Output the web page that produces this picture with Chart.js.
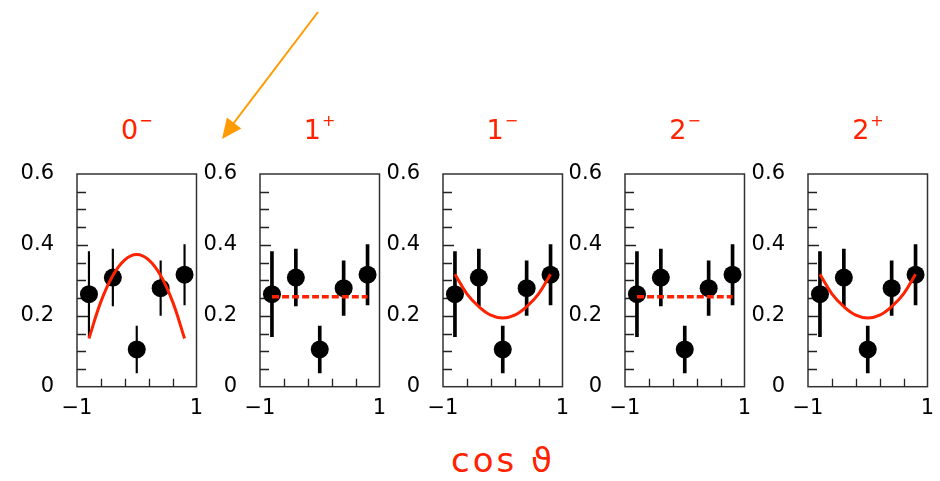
<!DOCTYPE html>
<html>
<head>
<meta charset="utf-8">
<script src="https://cdn.jsdelivr.net/npm/chart.js@4.4.0/dist/chart.umd.min.js"></script>
<style>
  html, body { margin:0; padding:0; background:#fff; }
  body { width:940px; height:481px; overflow:hidden; position:relative; font-family:"DejaVu Sans", sans-serif; }
  .panel { position:absolute; top:160px; width:190px; height:260px; }
  .title { position:absolute; top:116px; width:120px; text-align:center; color:#ff2200; font-size:27px; line-height:27px; white-space:nowrap; }
  .title .sup { font-size:16px; position:relative; top:-13px; margin-left:1px; }
  #xlabel { position:absolute; left:380px; width:246px; top:440px; text-align:center; color:#ff2200; font-size:34px; line-height:40px; letter-spacing:3px; white-space:nowrap; }
  #arrow { position:absolute; left:0; top:0; }
</style>
</head>
<body>
<svg id="arrow" width="940" height="481">
  <line x1="318" y1="12" x2="233" y2="124" stroke="#ff9a00" stroke-width="2"/>
  <polygon points="222,139 226.9,117.6 241.3,128.4" fill="#ff9a00"/>
</svg>
<div id="xlabel">cos ϑ</div>

<script>
// ---- data ----
const cosTheta   = [-0.8, -0.4, 0, 0.4, 0.8];
const yields     = [0.261, 0.308, 0.105, 0.278, 0.316];
const yieldErr   = [0.12, 0.08, 0.066, 0.077, 0.085];

const fitX       = [-0.8, -0.6, -0.4, -0.2, 0, 0.2, 0.4, 0.6, 0.8];
const fit0minus  = [0.136, 0.24, 0.314, 0.358, 0.373, 0.358, 0.314, 0.24, 0.136];
const fit1minus  = [0.317, 0.262, 0.226, 0.202, 0.194, 0.202, 0.226, 0.262, 0.317];
const flatX      = [-0.8, 0.8];
const flatY      = [0.254, 0.254];

const panelTitles = ["0", "1", "1", "2", "2"];
const panelSigns  = ["−", "+", "−", "−", "+"];

const yTickLabels  = [0, 0.2, 0.4, 0.6];
const xTickLabels  = [-1, 1];
const yInnerTicks  = [0.05, 0.1, 0.15, 0.2, 0.25, 0.3, 0.35, 0.4, 0.45, 0.5, 0.55];
const yMajorInner  = [0.2, 0.4];
const xInnerTicks  = [-0.6, -0.2, 0.2, 0.6];

// ---- styles / layout ----
const RED = '#ff2200';
const boxLefts = [77, 259.8, 442.6, 625.4, 808.2];
const AXIS_W = 60;
const panelFits = [
  {x: fitX, y: fit0minus, dash: [], w: 3},
  {x: flatX, y: flatY, dash: [7, 3], w: 3.5},
  {x: fitX, y: fit1minus, dash: [], w: 3},
  {x: flatX, y: flatY, dash: [7, 3], w: 3.5},
  {x: fitX, y: fit1minus, dash: [], w: 3}
];
const errWidths = [1.5, 3, 3, 3, 3];

const framePlugin = {
  id: 'frame',
  beforeDatasetsDraw(chart) {
    const {ctx, chartArea: a, scales: {x, y}} = chart;
    ctx.save();
    ctx.strokeStyle = '#333';
    ctx.lineWidth = 1.5;
    ctx.strokeRect(a.left, a.top, a.right - a.left, a.bottom - a.top);
    ctx.strokeStyle = '#222';
    ctx.lineWidth = 1.3;
    ctx.beginPath();
    yInnerTicks.forEach(v => {
      const py = Math.round(y.getPixelForValue(v)) + 0.5;
      const len = yMajorInner.includes(v) ? 11 : 9;
      ctx.moveTo(a.left, py); ctx.lineTo(a.left + len, py);
    });
    xInnerTicks.forEach(v => {
      const px = Math.round(x.getPixelForValue(v)) + 0.5;
      ctx.moveTo(px, a.bottom); ctx.lineTo(px, a.bottom - 8);
    });
    ctx.stroke();
    ctx.restore();
  }
};

boxLefts.forEach((bl, i) => {
  const wrap = document.createElement('div');
  wrap.className = 'panel';
  wrap.style.left = (bl - AXIS_W) + 'px';
  const cv = document.createElement('canvas');
  cv.width = 190; cv.height = 260;
  cv.style.width = '190px'; cv.style.height = '260px';
  wrap.appendChild(cv);
  document.body.appendChild(wrap);

  const t = document.createElement('div');
  t.className = 'title';
  t.style.left = (bl + 119.5 / 2 - 60) + 'px';
  t.innerHTML = panelTitles[i] + '<span class="sup">' + panelSigns[i] + '</span>';
  document.body.appendChild(t);

  const fit = panelFits[i];
  new Chart(cv.getContext('2d'), {
    type: 'scatter',
    data: {
      datasets: [
        {
          type: 'line',
          data: fit.x.map((x, k) => ({x, y: fit.y[k]})),
          borderColor: RED,
          borderWidth: fit.w,
          borderDash: fit.dash,
          pointRadius: 0,
          tension: 0.4,
          fill: false,
          order: 0
        },
        {
          type: 'scatter',
          data: cosTheta.map((x, k) => ({x, y: yields[k]})),
          backgroundColor: '#000',
          borderWidth: 0,
          pointRadius: 9,
          order: 1
        },
        {
          type: 'bar',
          data: cosTheta.map((x, k) => ({x, y: [yields[k] - yieldErr[k], yields[k] + yieldErr[k]]})),
          backgroundColor: '#000',
          borderWidth: 0,
          barThickness: errWidths[i],
          order: 2
        }
      ]
    },
    options: {
      responsive: false,
      animation: false,
      devicePixelRatio: 1,
      layout: { padding: { top: 14, right: 10.5, left: 0, bottom: 0 } },
      plugins: { legend: { display: false }, tooltip: { enabled: false } },
      scales: {
        x: {
          type: 'linear', min: -1, max: 1, offset: false,
          grid: { display: false, drawTicks: false },
          border: { display: false },
          afterBuildTicks: s => { s.ticks = xTickLabels.map(v => ({value: v})); },
          afterFit: s => { s.height = 33.3; s.paddingLeft = 0; s.paddingRight = 0; s.paddingTop = 0; s.paddingBottom = 0; },
          ticks: {
            autoSkip: false, maxRotation: 0, padding: 9,
            color: '#000', font: { family: 'DejaVu Sans', size: 21 },
            callback: v => v < 0 ? '−1' : String(v)
          }
        },
        y: {
          type: 'linear', min: 0, max: 0.6,
          grid: { display: false, drawTicks: false },
          border: { display: false },
          afterBuildTicks: s => { s.ticks = yTickLabels.map(v => ({value: v})); },
          afterFit: s => { s.width = AXIS_W; s.paddingTop = 0; s.paddingBottom = 0; s.paddingLeft = 0; s.paddingRight = 0; },
          ticks: {
            padding: 23, color: '#000', font: { family: 'DejaVu Sans', size: 21 },
            callback: v => v === 0 ? '0' : v.toFixed(1)
          }
        }
      }
    },
    plugins: [framePlugin]
  });
});
</script>
</body>
</html>
